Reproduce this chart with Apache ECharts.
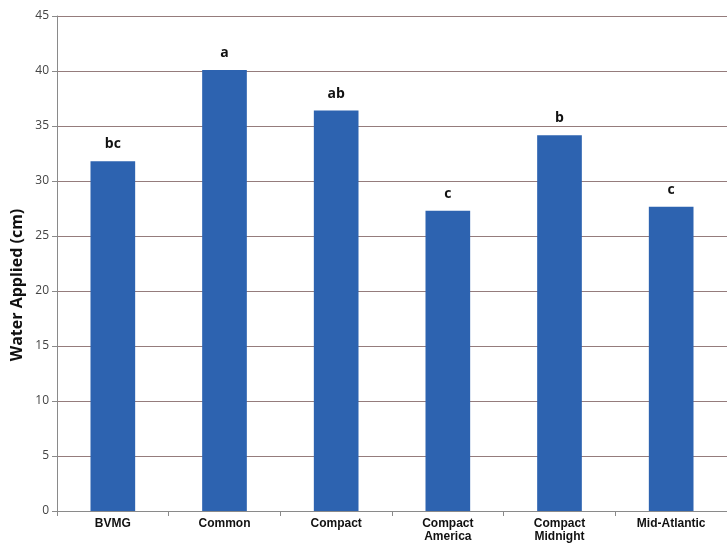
<!DOCTYPE html>
<html><head><meta charset="utf-8">
<script src="https://cdn.jsdelivr.net/npm/echarts@6/dist/echarts.min.js"></script>
<style>html,body{margin:0;padding:0;background:#fff}#c{width:727px;height:549px}</style>
</head><body><div id="c"></div>
<script>
var categories = ['BVMG', 'Common', 'Compact', 'Compact\nAmerica', 'Compact\nMidnight', 'Mid-Atlantic'];
var values = [31.8, 40.1, 36.4, 27.3, 34.15, 27.65];
var letters = ['bc', 'a', 'ab', 'c', 'b', 'c'];
var yTicks = [0, 5, 10, 15, 20, 25, 30, 35, 40, 45];

var chart = echarts.init(document.getElementById('c'));
chart.setOption({
  animation: false,
  grid: { left: 57, right: 0, top: 16, bottom: 38 },
  xAxis: {
    type: 'category',
    data: categories,
    axisLine: { lineStyle: { color: '#8a8a8a' } },
    axisTick: { show: true, length: 5, lineStyle: { color: '#8a8a8a' } },
    axisLabel: { color: '#111', fontWeight: 'bold', fontSize: 12, fontFamily: 'Liberation Sans', margin: 6, lineHeight: 13, interval: 0 }
  },
  yAxis: {
    type: 'value', min: 0, max: 45, interval: 5,
    axisLine: { show: true, lineStyle: { color: '#8a8a8a' } },
    axisTick: { show: true, length: 5, lineStyle: { color: '#8a8a8a' } },
    axisLabel: { color: '#444', fontSize: 12, fontFamily: 'Open Sans', margin: 8 },
    splitLine: { lineStyle: { color: '#957c7c', width: 1 } }
  },
  graphic: [{
    type: 'text', x: 17, y: 285, rotation: Math.PI / 2,
    style: { text: 'Water Applied (cm)', fill: '#111', font: 'bold 16px "Open Sans"', textAlign: 'center', textVerticalAlign: 'middle' }
  }],
  series: [{
    type: 'bar',
    data: values,
    barWidth: '40%',
    itemStyle: { color: '#2d63b0' },
    label: {
      show: true, position: 'top', distance: 10,
      formatter: function (p) { return letters[p.dataIndex]; },
      color: '#111', fontWeight: 'bold', fontSize: 14, fontFamily: 'Open Sans'
    }
  }]
});
</script></body></html>
